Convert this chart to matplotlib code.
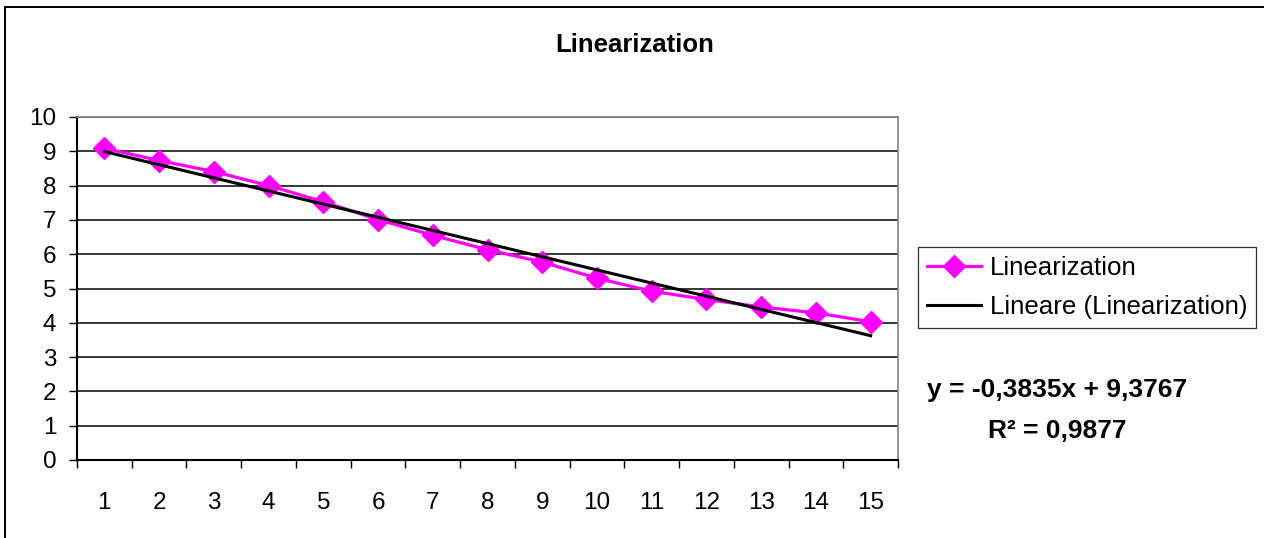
import matplotlib
matplotlib.use("Agg")
import matplotlib.pyplot as plt
from matplotlib.patches import Rectangle
from matplotlib.ticker import FixedLocator, NullFormatter
import numpy as np

plt.rcParams['font.family'] = ['Liberation Sans', 'DejaVu Sans']

# ---- data ----
categories = list(range(1, 16))
values = [9.09, 8.73, 8.41, 8.00, 7.53, 7.01, 6.55, 6.13, 5.77, 5.30,
          4.92, 4.68, 4.46, 4.29, 4.03]
trend_slope = -0.3835
trend_intercept = 9.3767
r_squared = 0.9877
title = "Linearization"
series_label = "Linearization"
trend_label = "Lineare (Linearization)"
y_ticks = list(range(0, 11))

W, H = 1264, 538
fig = plt.figure(figsize=(W / 100, H / 100), dpi=100)
fig.patch.set_facecolor('white')

# outer chart border (left and top visible)
fig.patches.append(Rectangle((5 / W, -0.1), 1.2, (H - 7) / H + 0.1, transform=fig.transFigure,
                             fill=False, edgecolor='black', linewidth=1.4))

L, R, T, B = 77, 898, 117, 460
ax = fig.add_axes([L / W, (H - B) / H, (R - L) / W, (B - T) / H])

x = np.array(categories, dtype=float)
y = np.array(values)
ax.plot(x, y, color='#FF00FF', linewidth=2.3, marker='D', markersize=11,
        markeredgecolor='#FF00FF', markerfacecolor='#FF00FF', label=series_label, zorder=3)
xt = np.array([categories[0], categories[-1]], dtype=float)
ax.plot(xt, trend_slope * xt + trend_intercept, color='black', linewidth=2.2,
        label=trend_label, zorder=4)

ax.set_xlim(0.5, len(categories) + 0.5)
ax.set_ylim(0, 10)

ax.xaxis.set_major_locator(FixedLocator(np.arange(0.5, len(categories) + 1, 1.0)))
ax.xaxis.set_major_formatter(NullFormatter())
ax.xaxis.set_minor_locator(FixedLocator(x))
ax.set_xticklabels([str(c) for c in categories], minor=True)
ax.tick_params(axis='x', which='major', direction='out', length=5.8, width=1.0, color='black')
ax.tick_params(axis='x', which='minor', length=0, pad=23, labelsize=17.5)
ax.set_yticks(y_ticks)
ax.set_yticklabels([str(v) for v in y_ticks])
ax.tick_params(axis='y', direction='out', length=5.8, width=1.0, pad=9, labelsize=17.5, color='black')

ax.set_axisbelow(True)
ax.yaxis.grid(True, color='black', linewidth=1.1)
ax.xaxis.grid(False)
for s in ['left', 'bottom']:
    ax.spines[s].set_color('black')
    ax.spines[s].set_linewidth(1.5)
for s in ['top', 'right']:
    ax.spines[s].set_color('#808080')
    ax.spines[s].set_linewidth(1.2)

fig.text(635 / W, 1 - 52 / H, title, ha='center', va='baseline',
         fontsize=18.5, fontweight='bold')

leg = ax.legend(loc='upper left', bbox_to_anchor=(918 / W, 1 - 247 / H),
                bbox_transform=fig.transFigure, borderaxespad=0, fontsize=18.6,
                frameon=True, fancybox=False, shadow=False, numpoints=1,
                handlelength=2.1, handletextpad=0.32, borderpad=0.35, labelspacing=0.58)
leg.get_frame().set_edgecolor('black')
leg.get_frame().set_linewidth(0.9)

eq1 = "y = {:.4f}x + {:.4f}".format(trend_slope, trend_intercept).replace('.', ',')
eq2 = "R\u00b2 = {:.4f}".format(r_squared).replace('.', ',')
fig.text(1057 / W, 1 - 397 / H, eq1, ha='center', va='baseline', fontsize=19, fontweight='bold')
fig.text(1057 / W, 1 - 438 / H, eq2, ha='center', va='baseline', fontsize=19, fontweight='bold')

fig.savefig('out.png', dpi=100, facecolor='white')
